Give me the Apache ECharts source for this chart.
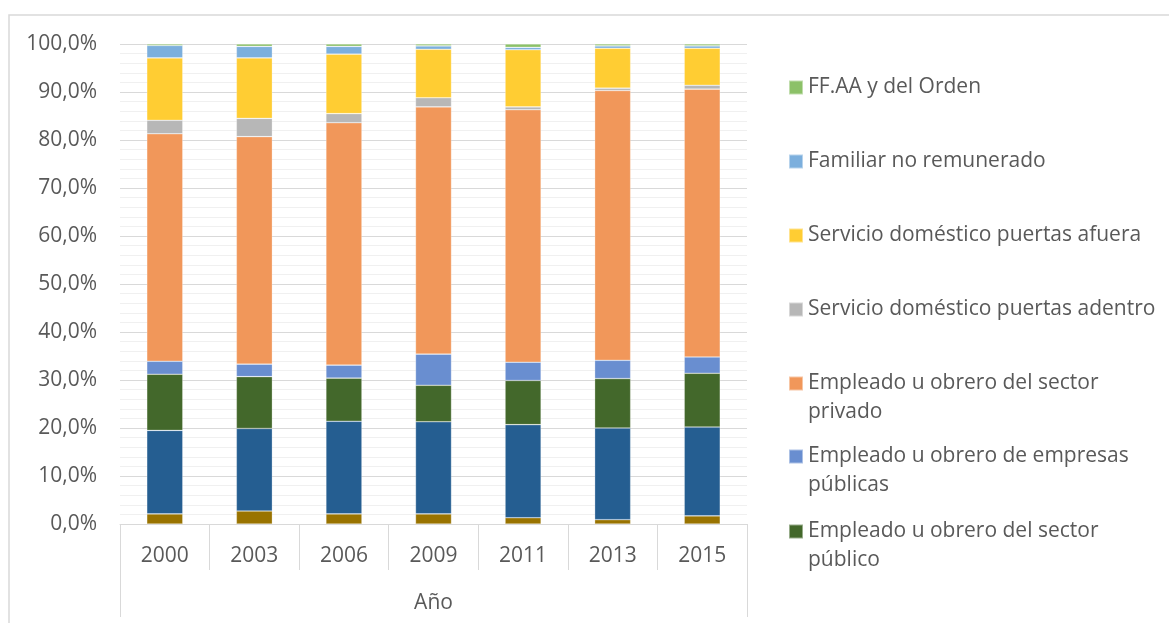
<!DOCTYPE html>
<html>
<head>
<meta charset="utf-8">
<script src="https://cdn.jsdelivr.net/npm/echarts@6/dist/echarts.min.js"></script>
<style>
  html, body { margin: 0; padding: 0; background: #fff; }
  #chart { width: 1169px; height: 623px; }
</style>
</head>
<body>
<div id="chart"></div>
<script>
// años de la encuesta
const years = ['2000', '2003', '2006', '2009', '2011', '2013', '2015'];

// porcentaje de cada categoría (de abajo hacia arriba en la barra)
const patron        = [2.1, 2.7, 2.1, 2.1, 1.3, 0.9, 1.7];
const cuentaPropia  = [17.4, 17.2, 19.3, 19.2, 19.4, 19.1, 18.5];
const sectorPublico = [11.7, 10.8, 9.0, 7.6, 9.2, 10.3, 11.2];
const empresasPub   = [2.7, 2.6, 2.7, 6.5, 3.8, 3.8, 3.4];
const sectorPrivado = [47.4, 47.4, 50.5, 51.5, 52.6, 56.2, 55.8];
const domAdentro    = [2.8, 3.8, 1.9, 1.9, 0.6, 0.5, 0.8];
const domAfuera     = [13.0, 12.6, 12.4, 10.1, 11.9, 8.3, 7.7];
const familiar      = [2.6, 2.4, 1.6, 0.7, 0.5, 0.5, 0.5];
const ffaa          = [0.3, 0.5, 0.5, 0.4, 0.7, 0.4, 0.4];

const yTicks = [0, 10, 20, 30, 40, 50, 60, 70, 80, 90, 100];

const seriesDefs = [
  { name: 'Patrón o empleador', data: patron, color: '#997300' },
  { name: 'Trabajador por cuenta propia', data: cuentaPropia, color: '#255E91' },
  { name: 'Empleado u obrero del sector público', data: sectorPublico, color: '#43682B' },
  { name: 'Empleado u obrero de empresas públicas', data: empresasPub, color: '#698ED0' },
  { name: 'Empleado u obrero del sector privado', data: sectorPrivado, color: '#F1975A' },
  { name: 'Servicio doméstico puertas adentro', data: domAdentro, color: '#B7B7B7' },
  { name: 'Servicio doméstico puertas afuera', data: domAfuera, color: '#FFCD33' },
  { name: 'Familiar no remunerado', data: familiar, color: '#7CAFDD' },
  { name: 'FF.AA y del Orden', data: ffaa, color: '#8CC168' }
];

// leyenda visible (orden de Excel, invertido); las dos de abajo quedan cortadas
const legendItems = [
  { name: 'FF.AA y del Orden', label: 'FF.AA y del Orden', top: 73 },
  { name: 'Familiar no remunerado', label: 'Familiar no remunerado', top: 147 },
  { name: 'Servicio doméstico puertas afuera', label: 'Servicio doméstico puertas afuera', top: 221 },
  { name: 'Servicio doméstico puertas adentro', label: 'Servicio doméstico puertas adentro', top: 295 },
  // linea vacia arriba para que el icono quede en la primera linea
  { name: 'Empleado u obrero del sector privado', label: '\nEmpleado u obrero del sector\nprivado', top: 340 },
  { name: 'Empleado u obrero de empresas públicas', label: '\nEmpleado u obrero de empresas\npúblicas', top: 413 },
  { name: 'Empleado u obrero del sector público', label: '\nEmpleado u obrero del sector\npúblico', top: 488 }
];

const FONT = 'Open Sans';
const TXT = '#595959';

const chart = echarts.init(document.getElementById('chart'), null, { renderer: 'canvas' });

chart.setOption({
  animation: false,
  backgroundColor: '#fff',
  color: seriesDefs.map(s => s.color),
  textStyle: { fontFamily: FONT },
  grid: { left: 120, right: 422, top: 44, bottom: 99, containLabel: false },
  legend: legendItems.map(it => ({
    orient: 'vertical',
    left: 788,
    top: it.top,
    padding: 0,
    itemWidth: 14,
    itemHeight: 14,
    icon: 'rect',
    selectedMode: false,
    data: [it.name],
    formatter: () => it.label,
    textStyle: { color: TXT, fontSize: 21, fontFamily: FONT, lineHeight: 29 }
  })),
  xAxis: [
    {
      type: 'category',
      data: years,
      position: 'bottom',
      axisLine: { show: true, lineStyle: { color: '#D9D9D9', width: 1 } },
      axisTick: { show: true, alignWithLabel: false, interval: 0, length: 46, lineStyle: { color: '#D9D9D9' } },
      axisLabel: { color: TXT, fontSize: 21, fontFamily: FONT, margin: 22, interval: 0 },
      splitLine: { show: false }
    },
    {
      type: 'category',
      data: ['Año'],
      position: 'bottom',
      axisLine: { show: false },
      axisTick: { show: true, alignWithLabel: false, length: 93, lineStyle: { color: '#D9D9D9' } },
      axisLabel: { color: TXT, fontSize: 21, fontFamily: FONT, margin: 69 },
      splitLine: { show: false }
    }
  ],
  yAxis: {
    type: 'value',
    min: yTicks[0],
    max: yTicks[yTicks.length - 1],
    interval: 10,
    axisLine: { show: false },
    axisTick: { show: false },
    axisLabel: {
      color: TXT, fontSize: 21, fontFamily: FONT, margin: 23,
      formatter: v => v.toFixed(1).replace('.', ',') + '%'
    },
    splitLine: { show: true, lineStyle: { color: '#D9D9D9', width: 1 } },
    minorTick: { show: false, splitNumber: 5 },
    minorSplitLine: { show: true, lineStyle: { color: '#F0F0F0', width: 1 } }
  },
  series: seriesDefs.map(s => ({
    name: s.name,
    type: 'bar',
    stack: 'total',
    barWidth: 36,
    data: s.data,
    itemStyle: { color: s.color, borderColor: 'rgba(255,255,255,0.45)', borderWidth: 0.6 }
  })),
  graphic: [
    {
      type: 'rect',
      silent: true,
      shape: { x: 9, y: 15, width: 1200, height: 700 },
      style: { fill: null, stroke: '#D9D9D9', lineWidth: 1.5 }
    }
  ]
});
</script>
</body>
</html>
